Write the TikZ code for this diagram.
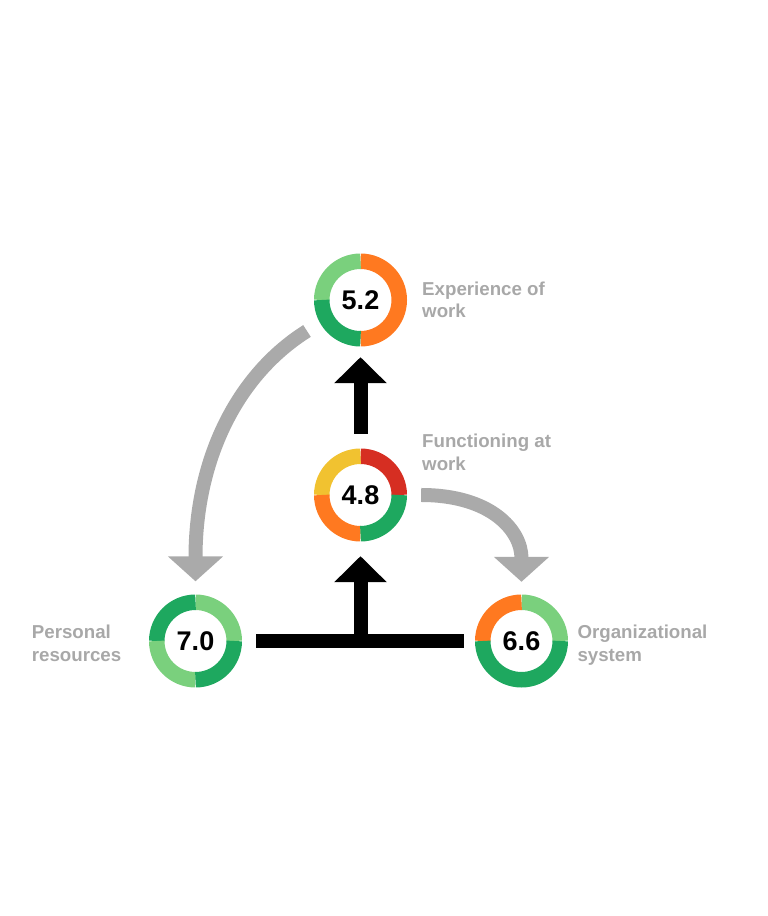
\documentclass[tikz,border=0pt]{standalone}
\usepackage{fontspec}
\setmainfont{Liberation Sans}
\usetikzlibrary{arrows.meta,calc}
\definecolor{lgreen}{RGB}{122,208,125}
\definecolor{dgreen}{RGB}{30,168,95}
\definecolor{orng}{RGB}{255,121,32}
\definecolor{rred}{RGB}{214,46,34}
\definecolor{yell}{RGB}{241,194,48}
\definecolor{arrgray}{RGB}{170,170,170}
\definecolor{lblgray}{RGB}{168,168,168}
\newcommand\ringseg[4]{\draw[line width=15.5pt,#4] ([shift={(#2:38.75pt)}]#1.center) arc[start angle=#2,end angle=#3,radius=38.75pt];}
\begin{document}
\begin{tikzpicture}[x=1pt,y=1pt,
  ring/.style={circle,minimum size=93pt,inner sep=0pt,font=\fontsize{27}{27}\selectfont\bfseries},
  lbl/.style={anchor=base west,align=left,text=lblgray,font=\fontsize{18.7}{22.7}\selectfont\bfseries,inner sep=0pt},
  grayarrow/.style={draw=arrgray,line width=14pt,-{Triangle[length=25pt,width=54pt,fill=arrgray]}},
  blackarrow/.style={draw=black,line width=14pt,-{Triangle[length=26pt,width=51pt,fill=black]}}]
\useasboundingbox (0,0) rectangle (768,916);

% rings
\node[ring] (top) at (360.5,616) {5.2};
\node[ring] (mid) at (360.5,421) {4.8};
\node[ring] (pers) at (195.5,275) {7.0};
\node[ring] (org) at (521.5,275) {6.6};

\ringseg{top}{-90}{90}{orng}
\ringseg{top}{90}{180}{lgreen}
\ringseg{top}{180}{270}{dgreen}

\ringseg{mid}{0}{90}{rred}
\ringseg{mid}{90}{180}{yell}
\ringseg{mid}{180}{270}{orng}
\ringseg{mid}{270}{360}{dgreen}

\ringseg{pers}{0}{90}{lgreen}
\ringseg{pers}{90}{180}{dgreen}
\ringseg{pers}{180}{270}{lgreen}
\ringseg{pers}{270}{360}{dgreen}

\ringseg{org}{0}{90}{lgreen}
\ringseg{org}{90}{180}{orng}
\ringseg{org}{180}{360}{dgreen}

% labels (anchor is the baseline of the last line)
\node[lbl] (lexp) at (422,598) {Experience of\\work};
\node[lbl] (lfun) at (422,445.3) {Functioning at\\work};
\node[lbl] (lper) at (31.7,254.3) {Personal\\resources};
\node[lbl] (lorg) at (577.3,254.3) {Organizational\\system};

% black connectors
\draw[blackarrow] ([yshift=14.5]mid.north) -- ([yshift=-10.5]top.south);
\draw[draw=black,line width=14pt] ([xshift=14]pers.east) -- ([xshift=-11]org.west);
\coordinate (bm) at (mid.south |- pers.center);
\draw[blackarrow] (bm) -- ([yshift=-14.5]mid.south);

% gray connectors
\coordinate (ls) at ($(top.center)+(-53.5,-31)$);
\coordinate (lt) at ([yshift=13]pers.north);
\draw[grayarrow] (ls) .. controls +(-70,-44) and +(0,122) .. (lt);
\coordinate (rs) at ([xshift=14]mid.east);
\coordinate (rt) at ([yshift=12.5]org.north);
\draw[grayarrow] (rs) .. controls +(69,0) and +(0,52) .. (rt);
\end{tikzpicture}
\end{document}
